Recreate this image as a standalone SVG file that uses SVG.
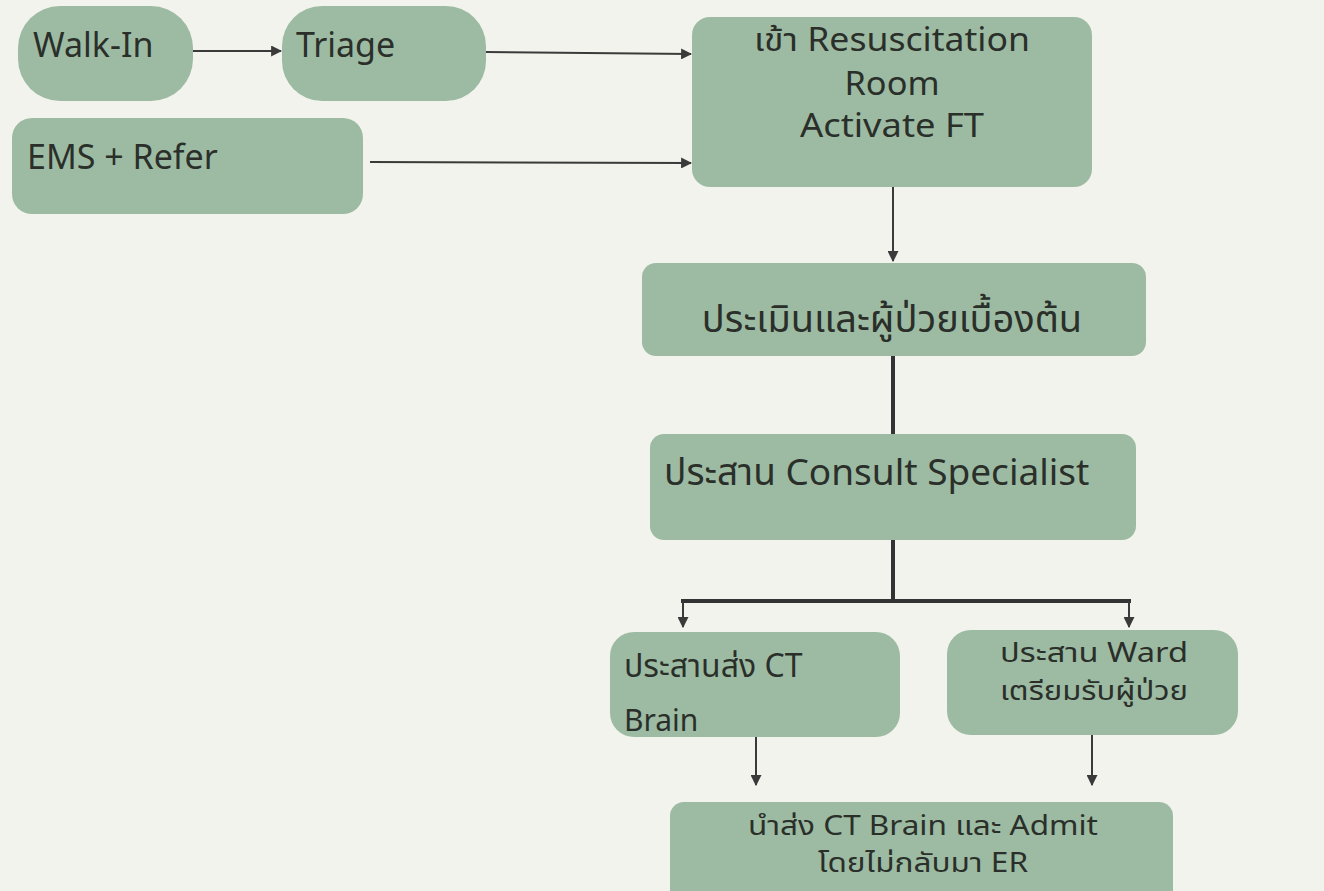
<svg xmlns="http://www.w3.org/2000/svg" width="1324" height="891" viewBox="0 0 1324 891">
  <defs>
    <marker id="arr" viewBox="0 0 10 10" refX="9" refY="5" markerWidth="11" markerHeight="11" markerUnits="userSpaceOnUse" orient="auto">
      <path d="M0,0 L10,5 L0,10 z" fill="#3a3a3a"/>
    </marker>
    <style>
      .box { fill: #9dbba3; }
      .t { font-family: "Noto Sans", "Noto Sans Thai", "DejaVu Sans", sans-serif; fill: #2b2f2a; }
      .c { text-anchor: middle; }
      .ln { stroke: #3a3a3a; stroke-width: 2; fill: none; }
      .thick { stroke: #333; stroke-width: 4; fill: none; }
    </style>
  </defs>
  <rect width="1324" height="891" fill="#f2f3ed"/>

  <g id="connectors">
    <line class="ln" x1="193" y1="51" x2="281" y2="51" marker-end="url(#arr)"/>
    <line class="ln" x1="486" y1="52" x2="691" y2="54" marker-end="url(#arr)"/>
    <line class="ln" x1="370" y1="162" x2="691" y2="163" marker-end="url(#arr)"/>
    <line class="ln" x1="893" y1="187" x2="893" y2="261" marker-end="url(#arr)"/>
    <line class="thick" x1="893" y1="356" x2="893" y2="434"/>
    <line class="thick" x1="893" y1="540" x2="893" y2="601"/>
    <line class="thick" x1="681" y1="601" x2="1131" y2="601"/>
    <line class="ln" x1="683" y1="601" x2="683" y2="627" marker-end="url(#arr)"/>
    <line class="ln" x1="1129" y1="601" x2="1129" y2="627" marker-end="url(#arr)"/>
    <line class="ln" x1="756" y1="737" x2="756" y2="785" marker-end="url(#arr)"/>
    <line class="ln" x1="1092" y1="735" x2="1092" y2="785" marker-end="url(#arr)"/>
  </g>

  <g id="walk-in">
    <rect class="box" x="18" y="6" width="175" height="95" rx="42"/>
    <text class="t" x="33" y="57" font-size="34">Walk-In</text>
  </g>
  <g id="triage">
    <rect class="box" x="282" y="6" width="204" height="95" rx="40"/>
    <text class="t" x="296" y="57" font-size="34">Triage</text>
  </g>
  <g id="ems-refer">
    <rect class="box" x="12" y="118" width="351" height="96" rx="20"/>
    <text class="t" x="27" y="169" font-size="34">EMS + Refer</text>
  </g>
  <g id="resuscitation">
    <rect class="box" x="692" y="17" width="400" height="170" rx="18"/>
    <text class="t c" x="892" y="51" font-size="32" textLength="276" lengthAdjust="spacingAndGlyphs">เข้า Resuscitation</text>
    <text class="t c" x="892" y="95" font-size="32" textLength="95" lengthAdjust="spacingAndGlyphs">Room</text>
    <text class="t c" x="892" y="137" font-size="32" textLength="184" lengthAdjust="spacingAndGlyphs">Activate FT</text>
  </g>
  <g id="assess">
    <rect class="box" x="642" y="263" width="504" height="93" rx="14"/>
    <text class="t c" x="892" y="332" font-size="38">ประเมินและผู้ป่วยเบื้องต้น</text>
  </g>
  <g id="consult">
    <rect class="box" x="650" y="434" width="486" height="106" rx="14"/>
    <text class="t" x="664" y="485" font-size="37">ประสาน Consult Specialist</text>
  </g>
  <g id="ct-brain">
    <rect class="box" x="610" y="632" width="290" height="105" rx="24"/>
    <text class="t" x="624" y="677" font-size="32">ประสานส่ง CT</text>
    <text class="t" x="624" y="731" font-size="30">Brain</text>
  </g>
  <g id="ward">
    <rect class="box" x="947" y="630" width="291" height="105" rx="24"/>
    <text class="t c" x="1094" y="662" font-size="27" textLength="188" lengthAdjust="spacingAndGlyphs">ประสาน Ward</text>
    <text class="t c" x="1094" y="700" font-size="27" textLength="188" lengthAdjust="spacingAndGlyphs">เตรียมรับผู้ป่วย</text>
  </g>
  <g id="transfer">
    <rect class="box" x="670" y="802" width="503" height="110" rx="14"/>
    <text class="t c" x="923" y="835" font-size="27" textLength="350" lengthAdjust="spacingAndGlyphs">นำส่ง CT Brain และ Admit</text>
    <text class="t c" x="923" y="872" font-size="27" textLength="210" lengthAdjust="spacingAndGlyphs">โดยไม่กลับมา ER</text>
  </g>
</svg>
